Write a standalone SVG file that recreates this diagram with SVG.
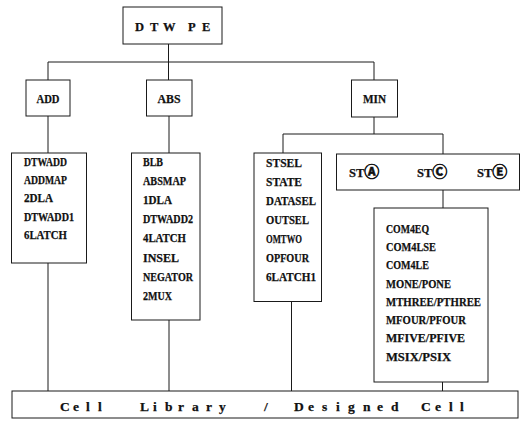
<svg xmlns="http://www.w3.org/2000/svg" width="524" height="428" viewBox="0 0 524 428">
<style>
.b{fill:#fff;stroke:#1a1a1a;stroke-width:1}
.c{fill:none;stroke:#1a1a1a;stroke-width:1}
text{font-family:"Liberation Serif","Noto Sans CJK SC",serif;font-weight:bold;fill:#111;stroke:#111;stroke-width:0.25;font-size:12.5px}
.t{text-anchor:middle}
.big{font-size:13.5px}
.st{font-size:12.5px}
.ci{font-family:"Noto Sans CJK SC","DejaVu Sans",sans-serif;font-size:15px;stroke-width:0.6}
</style>
<rect width="524" height="428" fill="#fff"/>
<g id="connectors">
<path class="c" d="M168.5 44V62M48 62H374M48 62V80M168.5 62V80M374 62V80"/>
<path class="c" d="M48 116V153M169 116V153M374 117V134M283 134H443M283 134V153M443 134V154M443 190V208"/>
<path class="c" d="M48 263V391M169 320V391M291.5 301.5V391M442.5 382V391"/>
</g>
<g id="dtwpe">
<rect class="b" x="123" y="7" width="99" height="37"/>
<text x="135 150 163 177 188 202" y="30.5">DTW PE</text>
</g>
<g id="add">
<rect class="b" x="26" y="80" width="44" height="36"/>
<text class="t" x="48" y="103" textLength="23" lengthAdjust="spacingAndGlyphs">ADD</text>
</g>
<g id="abs">
<rect class="b" x="146.5" y="80" width="45.5" height="36"/>
<text class="t" x="169" y="103" textLength="23" lengthAdjust="spacingAndGlyphs">ABS</text>
</g>
<g id="min">
<rect class="b" x="351.5" y="80" width="46" height="37"/>
<text class="t" x="374.5" y="103" textLength="23" lengthAdjust="spacingAndGlyphs">MIN</text>
</g>
<g id="add-cells">
<rect class="b" x="11.5" y="153" width="75" height="110"/>
<text x="24" y="166" textLength="43" lengthAdjust="spacingAndGlyphs">DTWADD</text>
<text x="24" y="184.2" textLength="43" lengthAdjust="spacingAndGlyphs">ADDMAP</text>
<text x="24" y="202.4" textLength="29" lengthAdjust="spacingAndGlyphs">2DLA</text>
<text x="24" y="220.6" textLength="50" lengthAdjust="spacingAndGlyphs">DTWADD1</text>
<text x="24" y="238.8" textLength="43" lengthAdjust="spacingAndGlyphs">6LATCH</text>
</g>
<g id="abs-cells">
<rect class="b" x="131.5" y="153" width="68.5" height="167"/>
<text x="143" y="166" textLength="20" lengthAdjust="spacingAndGlyphs">BLB</text>
<text x="143" y="185.1" textLength="43" lengthAdjust="spacingAndGlyphs">ABSMAP</text>
<text x="143" y="204.2" textLength="29" lengthAdjust="spacingAndGlyphs">1DLA</text>
<text x="143" y="223.3" textLength="50" lengthAdjust="spacingAndGlyphs">DTWADD2</text>
<text x="143" y="242.4" textLength="43" lengthAdjust="spacingAndGlyphs">4LATCH</text>
<text x="143" y="261.5" textLength="36" lengthAdjust="spacingAndGlyphs">INSEL</text>
<text x="143" y="280.6" textLength="50" lengthAdjust="spacingAndGlyphs">NEGATOR</text>
<text x="143" y="299.7" textLength="29" lengthAdjust="spacingAndGlyphs">2MUX</text>
</g>
<g id="min-cells">
<rect class="b" x="254" y="153" width="67.5" height="148.5"/>
<text x="266" y="167" textLength="36" lengthAdjust="spacingAndGlyphs">STSEL</text>
<text x="266" y="186" textLength="36" lengthAdjust="spacingAndGlyphs">STATE</text>
<text x="266" y="205" textLength="50" lengthAdjust="spacingAndGlyphs">DATASEL</text>
<text x="266" y="224" textLength="43" lengthAdjust="spacingAndGlyphs">OUTSEL</text>
<text x="266" y="243" textLength="36" lengthAdjust="spacingAndGlyphs">OMTWO</text>
<text x="266" y="262" textLength="43" lengthAdjust="spacingAndGlyphs">OPFOUR</text>
<text x="266" y="281" textLength="50" lengthAdjust="spacingAndGlyphs">6LATCH1</text>
</g>
<g id="states">
<rect class="b" x="336.5" y="154" width="183" height="36"/>
<text class="st" x="349" y="176.5">ST<tspan class="ci">Ⓐ</tspan></text>
<text class="st" x="417" y="176.5">ST<tspan class="ci">Ⓒ</tspan></text>
<text class="st" x="477" y="176.5">ST<tspan class="ci">Ⓔ</tspan></text>
</g>
<g id="compare-cells">
<rect class="b" x="374" y="208" width="114" height="174"/>
<text x="386" y="232.6" textLength="43" lengthAdjust="spacingAndGlyphs">COM4EQ</text>
<text x="386" y="250.9" textLength="50" lengthAdjust="spacingAndGlyphs">COM4LSE</text>
<text x="386" y="269.2" textLength="43" lengthAdjust="spacingAndGlyphs">COM4LE</text>
<text x="386" y="287.5" textLength="65" lengthAdjust="spacingAndGlyphs">MONE/PONE</text>
<text x="386" y="305.8" textLength="95" lengthAdjust="spacingAndGlyphs">MTHREE/PTHREE</text>
<text x="386" y="324.1" textLength="80" lengthAdjust="spacingAndGlyphs">MFOUR/PFOUR</text>
<text x="386" y="342.4" textLength="79" lengthAdjust="spacingAndGlyphs">MFIVE/PFIVE</text>
<text x="386" y="360.7" textLength="65" lengthAdjust="spacingAndGlyphs">MSIX/PSIX</text>
</g>
<g id="library">
<rect class="b" x="12" y="391" width="506" height="27"/>
<text class="big" x="60 73 86 98 110 140 153 165 178 192 206 219 240 264 280 294 308 322 336 348 363 377 391 405 421 435 449 460" y="411">Cell Library / Designed Cell</text>
</g>
</svg>
